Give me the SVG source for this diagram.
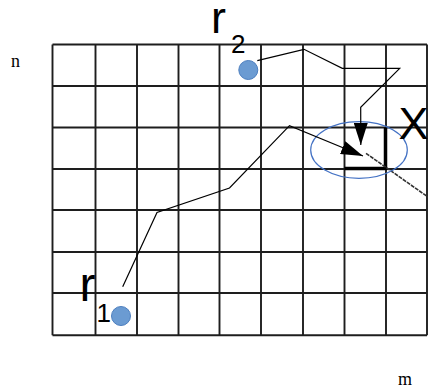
<svg xmlns="http://www.w3.org/2000/svg" width="428" height="389" viewBox="0 0 428 389">
<style>
.grid line{stroke:#1e1e1e;stroke-width:1.9}
.path{fill:none;stroke:#000;stroke-width:1.2}
.dot{fill:#6b9bd2;stroke:#4d7fbf;stroke-width:1}
.lbl{font-family:"Liberation Sans",Arial,sans-serif;fill:#000}
.ax{font-family:"Liberation Serif","Times New Roman",serif;fill:#000;font-size:18px}
</style>
<defs>
<marker id="ah" viewBox="0 0 22 14" refX="22" refY="7" markerWidth="22" markerHeight="14" markerUnits="userSpaceOnUse" orient="auto">
<path d="M0,0 L22,7 L0,14 z" fill="#000"/>
</marker>
</defs>
<rect width="428" height="389" fill="#fff"/>
<g id="grid" class="grid">
<line x1="52.5" y1="44.5" x2="52.5" y2="335.3"/>
<line x1="95.5" y1="44.5" x2="95.5" y2="335.3"/>
<line x1="137" y1="44.5" x2="137" y2="335.3"/>
<line x1="178.5" y1="44.5" x2="178.5" y2="335.3"/>
<line x1="219.5" y1="44.5" x2="219.5" y2="335.3"/>
<line x1="261" y1="44.5" x2="261" y2="335.3"/>
<line x1="303" y1="44.5" x2="303" y2="335.3"/>
<line x1="344.5" y1="44.5" x2="344.5" y2="335.3"/>
<line x1="386" y1="44.5" x2="386" y2="335.3"/>
<line x1="427" y1="44.5" x2="427" y2="335.3"/>
<line x1="52.5" y1="44.5" x2="427" y2="44.5"/>
<line x1="52.5" y1="86" x2="427" y2="86"/>
<line x1="52.5" y1="127.5" x2="427" y2="127.5"/>
<line x1="52.5" y1="169" x2="427" y2="169"/>
<line x1="52.5" y1="210" x2="427" y2="210"/>
<line x1="52.5" y1="252" x2="427" y2="252"/>
<line x1="52.5" y1="293" x2="427" y2="293"/>
<line x1="52.5" y1="335.3" x2="427" y2="335.3"/>
</g>
<g id="axis-n"><text class="ax" x="11" y="66.5">n</text></g>
<g id="axis-m"><text class="ax" x="398" y="385">m</text></g>
<g id="target">
<path d="M344.5,168.5 H385.5 V127.5" fill="none" stroke="#000" stroke-width="3.5"/>
<line x1="366" y1="153.3" x2="428" y2="197" stroke="#333" stroke-width="1.6" stroke-dasharray="4 1"/>
<ellipse cx="359" cy="150" rx="48.3" ry="28.3" fill="none" stroke="#4472c4" stroke-width="1.2"/>
</g>
<g id="X"><text class="lbl" x="398.5" y="139" font-size="45">X</text></g>
<g id="connectors">
<polyline class="path" points="122.7,286.7 157,212.5 229.5,188 289.5,125.7 363,156" marker-end="url(#ah)"/>
<polyline class="path" points="257.3,60.7 304,49.3 342.3,68.3 399.7,68.3 360.7,107.3 360.8,145" marker-end="url(#ah)"/>
</g>
<g id="r1">
<circle class="dot" cx="121" cy="316" r="9.5"/>
<text class="lbl" x="79.5" y="300.7" font-size="48">r</text>
<text class="lbl" x="96.5" y="321.7" font-size="26">1</text>
</g>
<g id="r2">
<circle class="dot" cx="248.3" cy="70" r="9.5"/>
<text class="lbl" x="211" y="33.3" font-size="45">r</text>
<text class="lbl" x="231" y="53.3" font-size="26">2</text>
</g>
</svg>
